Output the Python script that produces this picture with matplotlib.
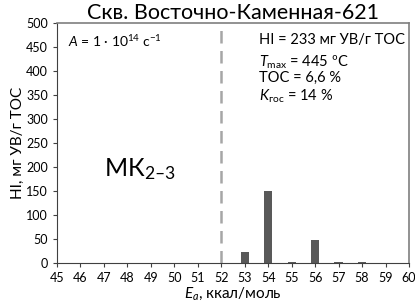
import matplotlib.pyplot as plt

energia = [45, 46, 47, 48, 49, 50, 51, 52, 53, 54, 55, 56, 57, 58, 59, 60]
hi_vals = [0, 0, 0, 0, 0, 0, 0, 0, 22, 150, 2, 47, 1.5, 1.5, 1, 0]
ticks_y = [0, 50, 100, 150, 200, 250, 300, 350, 400, 450, 500]

plt.rcParams['font.family'] = ['Lato', 'DejaVu Sans']
plt.rcParams['mathtext.fontset'] = 'custom'
plt.rcParams['mathtext.it'] = 'Lato:italic'
plt.rcParams['mathtext.rm'] = 'Lato'

fig = plt.figure(figsize=(4.15, 3.07), dpi=100)
ax = fig.add_axes([57/415, 1-263/307, 352/415, 240/307])

ax.bar(energia, hi_vals, width=0.35, color='#595959')
ax.plot([52, 52], [0, 500], color='#a6a6a6', linestyle=(0, (5, 3)), linewidth=1.8)

ax.set_xlim(45, 60)
ax.set_ylim(0, 500)
ax.set_xticks(energia)
ax.set_yticks(ticks_y)
ax.tick_params(labelsize=9, length=3, color='#404040', direction='out')

for s in ['top', 'right']:
    ax.spines[s].set_color('#7f7f7f')
    ax.spines[s].set_linewidth(1.2)
for s in ['left', 'bottom']:
    ax.spines[s].set_color('#404040')
    ax.spines[s].set_linewidth(0.8)

ax.set_title('Скв. Восточно-Каменная-621', fontsize=15.5, pad=2)
ax.set_ylabel('HI, мг УВ/г TOC', fontsize=11, labelpad=1)
ax.set_xlabel('$E_a$, ккал/моль', fontsize=11, labelpad=1)

ax.text(45.45, 462, r'$A$ = 1 · 10$^{14}$ с$^{-1}$', fontsize=10, va='center')
ax.text(47.0, 195, r'$\mathrm{МК}_{2–3}$', fontsize=18, va='center')

ax.text(53.6, 465, 'HI = 233 мг УВ/г TOC', fontsize=10.5, va='center')
ax.text(53.6, 419, r'$T_{\rm max}$ = 445 ºС', fontsize=10.5, va='center')
ax.text(53.6, 385, 'TOC = 6,6 %', fontsize=10.5, va='center')
ax.text(53.6, 348, r'$K_{\rm гос}$ = 14 %', fontsize=10.5, va='center')

fig.savefig('out.png', dpi=100)
